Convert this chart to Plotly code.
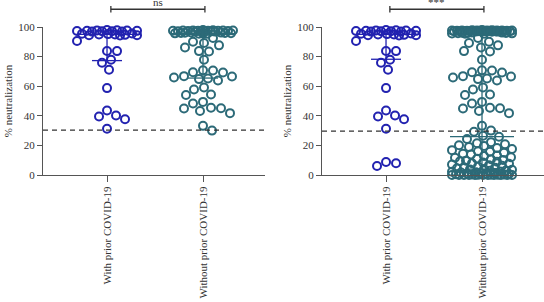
import math
import plotly.graph_objects as go

# ---------------- data ----------------
categories = ["With prior COVID-19", "Without prior COVID-19"]
y_ticks = [0, 20, 40, 60, 80, 100]

with_prior_a = [97.6, 97.3, 97.8, 97.1, 97.5, 96.9, 97.7, 97.2, 97.4, 98.0, 97.0,
                94.9, 94.5, 95.2, 94.3, 95.6, 94.7, 95.0, 94.4, 95.4,
                90.5, 83.7, 83.8, 77.9, 75.8, 71.1, 58.7, 43.6, 37.7, 40.2, 39.5, 31.2]

without_prior_a = [97.6, 97.4, 97.2, 97.8, 97.5, 97.0, 97.3, 97.7, 97.1, 97.9, 97.4,
                   97.6, 97.2, 97.5, 96.8, 97.3, 96.9, 97.6,
                   95.8, 96.0, 95.5, 96.2, 95.9, 95.6, 96.1, 95.7, 96.3, 95.4,
                   92.6, 90.0, 89.2, 87.6, 86.2, 83.5, 83.7, 77.9,
                   69.3, 69.4, 70.7, 63.9, 65.2, 66.6, 70.6, 64.8, 65.9, 66.8,
                   57.8, 59.1, 54.0, 54.4, 49.4, 43.3, 45.4, 44.9, 45.1, 48.3,
                   41.8, 33.2, 30.0]

with_prior_b = with_prior_a + [6.1, 8.8, 7.9]

without_prior_b = without_prior_a + [
    97.5, 97.1, 97.8, 97.3, 97.6, 97.0, 97.4, 97.7, 97.2, 97.5, 96.9, 97.3, 97.6, 97.1, 97.4,
    29.2, 26.5, 25.8,
    24.3, 22.2, 21.4, 20.7, 20.1, 19.6, 19.0, 18.3, 17.6, 16.8, 16.1, 15.7,
    15.0, 14.3, 13.9, 13.1, 12.8, 12.0, 11.6, 11.0, 10.6, 10.2, 9.7, 9.3,
    8.9, 8.4, 7.9, 7.6, 7.1, 6.6, 6.2, 5.8, 5.3, 4.9, 4.6, 4.1, 3.8, 3.5,
    3.1, 2.8, 2.4, 2.2, 1.9, 1.7, 1.4, 1.2, 1.0, 0.8, 0.7, 0.5, 0.4, 0.3,
    0.2, 0.1, 0.1, 0.0, 0.0, 0.0, 0.0, 0.0, 0.0, 0.0, 0.0, 0.0, 0.0, 0.0]

# summary lines (median, 1st and 3rd quartile)
median_a = [95.0, 95.5]
q1_a = [77.3, 65.5]
q3_a = [97.3, 97.4]
median_b = [95.0, 25.9]
q1_b = [78.2, 4.0]
q3_b = [97.3, 97.3]

cutoff_a = 30.3
cutoff_b = 29.6
sig_labels = ["ns", "***"]

# ---------------- styling ----------------
W, H = 544, 302
M_T, M_B = 27, 127
BLUE = "#2222b0"
TEAL = "#2c6a78"
AXC = "#555555"
FONT = "Liberation Serif"
X_RANGE = [-0.667, 1.646]
Y_RANGE = [0, 100]
DOM_A = [43 / W, 265 / W]
DOM_B = [322 / W, 1.0]

plot_h = H - M_T - M_B
px_y = plot_h / (Y_RANGE[1] - Y_RANGE[0])


def px_x(dom):
    return (dom[1] - dom[0]) * W / (X_RANGE[1] - X_RANGE[0])


def swarm(values, pxx, pxy, diam=9.5, half_width=30.0, step=1.0):
    order = sorted(range(len(values)), key=lambda i: -values[i])
    cands = [0.0]
    k = 1
    while k * step <= half_width:
        cands += [k * step, -k * step]
        k += 1
    placed = []
    offs = [0.0] * len(values)
    for i in order:
        yp = values[i] * pxy
        best_o, best_d = 0.0, -1.0
        for o in cands:
            d = min((math.hypot(o - po, yp - py) for po, py in placed), default=1e9)
            if d >= diam:
                best_o = o
                break
            if d > best_d:
                best_d, best_o = d, o
        placed.append((best_o, yp))
        offs[i] = best_o / pxx
    return offs


fig = go.Figure()


def add_panel(xa, ya, dom, groups, med, q1, q3):
    pxx = px_x(dom)
    cap = 15.0 / pxx
    medw = 32.0 / pxx
    for ci, (vals, col) in enumerate(groups):
        xs = [ci, ci, None, ci - medw, ci + medw, None,
              ci - cap, ci + cap, None, ci - cap, ci + cap]
        ys = [q1[ci], q3[ci], None, med[ci], med[ci], None,
              q1[ci], q1[ci], None, q3[ci], q3[ci]]
        fig.add_trace(go.Scatter(x=xs, y=ys, mode="lines", xaxis=xa, yaxis=ya,
                                 line=dict(color=col, width=1.3), showlegend=False,
                                 hoverinfo="skip"))
        offs = swarm(vals, pxx, px_y)
        fig.add_trace(go.Scatter(
            x=[ci + o for o in offs], y=vals, mode="markers", xaxis=xa, yaxis=ya,
            marker=dict(symbol="circle-open", color=col, size=8, line=dict(width=2)),
            cliponaxis=False, showlegend=False))


add_panel("x", "y", DOM_A, [(with_prior_a, BLUE), (without_prior_a, TEAL)],
          median_a, q1_a, q3_a)
add_panel("x2", "y2", DOM_B, [(with_prior_b, BLUE), (without_prior_b, TEAL)],
          median_b, q1_b, q3_b)

xax = dict(range=X_RANGE, tickvals=[0, 1], ticktext=categories, tickangle=-90,
           ticks="outside", ticklen=6, tickcolor=AXC, showline=True, linecolor=AXC,
           linewidth=1.2, showgrid=False, zeroline=False, fixedrange=True, automargin=False,
           tickfont=dict(size=11, family=FONT, color="#333"))
yax = dict(range=Y_RANGE, tickvals=y_ticks, ticks="outside", ticklen=5, tickcolor=AXC,
           showline=True, linecolor=AXC, linewidth=1.2, showgrid=False, zeroline=False,
           automargin=False,
           tickfont=dict(size=11, family=FONT, color="#333"),
           title=dict(text="% neutralization", font=dict(size=11, family=FONT, color="#333"),
                      standoff=3))

fig.update_layout(
    width=W, height=H, margin=dict(l=0, r=0, t=M_T, b=M_B),
    paper_bgcolor="white", plot_bgcolor="white",
    xaxis=dict(domain=DOM_A, anchor="y", **xax),
    yaxis=dict(anchor="x", **yax),
    xaxis2=dict(domain=DOM_B, anchor="y2", **xax),
    yaxis2=dict(anchor="x2", **yax),
    font=dict(family=FONT, size=11, color="#333"),
)

sig_y = 1.12
for xa, ya, cut, lab in [("x", "y", cutoff_a, sig_labels[0]), ("x2", "y2", cutoff_b, sig_labels[1])]:
    fig.add_shape(type="line", xref=xa + " domain", yref=ya, x0=0, x1=1, y0=cut, y1=cut,
                  line=dict(color="#333", width=1.3, dash="5px,4px"))
    yd = ya + " domain"
    fig.add_shape(type="line", xref=xa, yref=yd, x0=0.04, x1=1.02, y0=sig_y, y1=sig_y,
                  line=dict(color="#333", width=1.3))
    for xe in (0.04, 1.02):
        fig.add_shape(type="line", xref=xa, yref=yd, x0=xe, x1=xe, y0=sig_y - 0.022,
                      y1=sig_y + 0.022, line=dict(color="#333", width=1.3))
    fig.add_annotation(x=0.53, y=sig_y, xref=xa, yref=yd, text=lab, showarrow=False,
                       yanchor="bottom", yshift=-1,
                       font=dict(size=11, family=FONT, color="#333"))

fig.write_html("out.html", config={"displayModeBar": False},
               post_script="document.body.style.margin='0';")
